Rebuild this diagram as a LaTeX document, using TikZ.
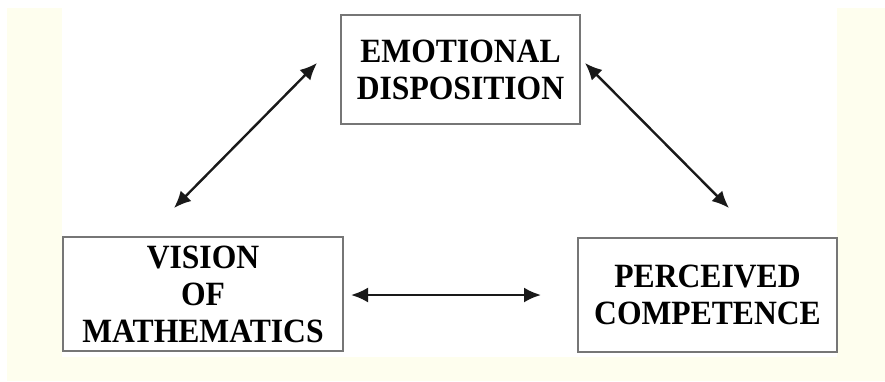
\documentclass[tikz,border=0pt]{standalone}
\usepackage{fontspec}
\setmainfont{Liberation Serif}
\newfontfamily\boxfont{Liberation Serif Bold}[FakeStretch=0.93]
\usetikzlibrary{arrows.meta}
\definecolor{paper}{RGB}{254,254,238}
\definecolor{framegray}{RGB}{118,118,118}

\begin{document}
\begin{tikzpicture}[x=1pt, y=-1pt,
	factor/.style={draw=framegray, line width=2.2pt, fill=white, align=center, inner sep=0pt, font=\boxfont\fontsize{34}{37}\selectfont},
	link/.style={line width=2.4pt, draw=black!90, {Latex[length=17pt,width=15pt]}-{Latex[length=17pt,width=15pt]}}]

		% page and cream margins
		\fill[white] (0,0) rectangle (885,381);
		\fill[paper] (7,8) rectangle (885,381);
		\fill[white] (62,0) rectangle (837,357);
		\useasboundingbox (0,0) rectangle (885,381);

		% the three boxes
		\node[factor, minimum width=239, minimum height=109] (emo) at (460.5,69.5) {EMOTIONAL\\DISPOSITION};
		\node[factor, minimum width=280, minimum height=114] (vis) at (203,294) {VISION\\OF\\MATHEMATICS};
		\node[factor, minimum width=259, minimum height=114] (per) at (707.5,295) {PERCEIVED\\COMPETENCE};

		% arrow ends (they stop short of the boxes)
		\coordinate (emoL) at (317,63);
		\coordinate (emoR) at (585,63);
		\coordinate (visT) at (174,208);
		\coordinate (perT) at (729,208);
		\coordinate (visR) at (351,295);
		\coordinate (perL) at (541,295);

		% double arrows
		\draw[link] (visT) -- (emoL);
		\draw[link] (emoR) -- (perT);
		\draw[link] (visR) -- (perL);

\end{tikzpicture}
\end{document}
